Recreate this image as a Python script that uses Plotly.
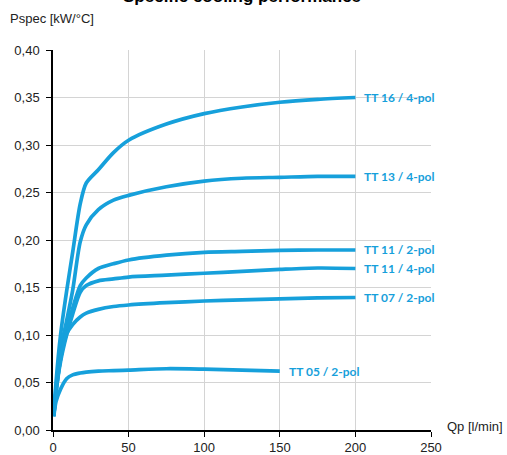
import plotly.graph_objects as go

# Flow rate Qp [l/min]
q_main = [0.5, 2, 5, 9, 13, 18, 22, 30, 40, 50, 75, 100, 125, 150, 175, 200]
q_tt05 = [0.5, 2, 5, 9, 13, 18, 22, 30, 40, 50, 75, 100, 125, 150]

# Specific cooling performance Pspec [kW/°C]
tt16_4pol = [0.015, 0.05, 0.10, 0.146, 0.187, 0.238, 0.260, 0.274, 0.292, 0.305, 0.322, 0.333, 0.340, 0.345, 0.348, 0.350]
tt13_4pol = [0.015, 0.045, 0.085, 0.115, 0.147, 0.198, 0.216, 0.232, 0.242, 0.247, 0.256, 0.262, 0.265, 0.266, 0.267, 0.267]
tt11_2pol = [0.015, 0.04, 0.075, 0.105, 0.128, 0.152, 0.160, 0.170, 0.175, 0.179, 0.184, 0.187, 0.188, 0.189, 0.1895, 0.1895]
tt11_4pol = [0.015, 0.04, 0.072, 0.100, 0.122, 0.145, 0.152, 0.157, 0.159, 0.161, 0.163, 0.165, 0.167, 0.169, 0.1705, 0.170]
tt07_2pol = [0.015, 0.04, 0.075, 0.101, 0.111, 0.119, 0.123, 0.127, 0.130, 0.1316, 0.134, 0.1358, 0.137, 0.138, 0.139, 0.1395]
tt05_2pol = [0.014, 0.03, 0.043, 0.054, 0.058, 0.060, 0.061, 0.062, 0.0625, 0.063, 0.0645, 0.064, 0.063, 0.062]

series = [
    ("TT 16 / 4-pol", q_main, tt16_4pol),
    ("TT 13 / 4-pol", q_main, tt13_4pol),
    ("TT 11 / 2-pol", q_main, tt11_2pol),
    ("TT 11 / 4-pol", q_main, tt11_4pol),
    ("TT 07 / 2-pol", q_main, tt07_2pol),
    ("TT 05 / 2-pol", q_tt05, tt05_2pol),
]

x_ticks = [0, 50, 100, 150, 200, 250]
y_ticks = [0, 0.05, 0.10, 0.15, 0.20, 0.25, 0.30, 0.35, 0.40]

blue = "rgb(22,160,219)"

fig = go.Figure()
for name, q, p in series:
    fig.add_trace(go.Scatter(
        x=q, y=p, mode="lines", name=name,
        line=dict(color=blue, width=3.7, shape="spline", smoothing=0.8),
        showlegend=False, hoverinfo="skip",
    ))
    fig.add_annotation(
        x=q[-1] + 4.5, y=p[-1], xref="x", yref="y",
        text="<b>" + name + "</b>", showarrow=False,
        xanchor="left", yanchor="middle",
        font=dict(family="Lato", size=12, color=blue),
    )

fig.add_annotation(
    x=0.5, y=1.11, xref="paper", yref="paper",
    text="<b>Specific cooling performance</b>", showarrow=False,
    xanchor="center", yanchor="bottom",
    font=dict(family="Liberation Sans, Arial", size=17, color="black"),
)
fig.add_annotation(
    x=-0.119, y=1.084, xref="paper", yref="paper",
    text="Pspec [kW/°C]", showarrow=False,
    xanchor="left", yanchor="middle",
    font=dict(family="Liberation Sans, Arial", size=13, color="#222"),
)
fig.add_annotation(
    x=1.037, y=0.01, xref="paper", yref="paper",
    text="Qp [l/min]", showarrow=False,
    xanchor="left", yanchor="middle",
    font=dict(family="Liberation Sans, Arial", size=13, color="#222"),
)

fig.update_layout(
    width=507, height=455,
    margin=dict(l=53, r=76, t=50, b=25, autoexpand=False),
    paper_bgcolor="white", plot_bgcolor="white",
    separators=", ",
    font=dict(family="Liberation Sans, Arial", size=13, color="#222"),
)
fig.update_xaxes(
    range=[0, 250], tickvals=x_ticks, ticktext=[str(v) for v in x_ticks],
    showgrid=True, gridcolor="#d4d4d4", gridwidth=1,
    showline=True, linecolor="black", linewidth=1.5,
    ticks="outside", ticklen=5, tickcolor="black",
    zeroline=False, mirror=False, automargin=False,
)
fig.update_yaxes(
    range=[0, 0.40], tickvals=y_ticks, tickformat=".2f",
    showgrid=True, gridcolor="#d4d4d4", gridwidth=1,
    showline=True, linecolor="black", linewidth=1.5,
    ticks="outside", ticklen=5, tickcolor="black",
    ticklabelstandoff=4, zeroline=False, automargin=False,
)

fig.write_html(
    "out.html",
    config={"displayModeBar": False},
    post_script="document.body.style.margin='0px';document.body.style.overflow='hidden';",
)
